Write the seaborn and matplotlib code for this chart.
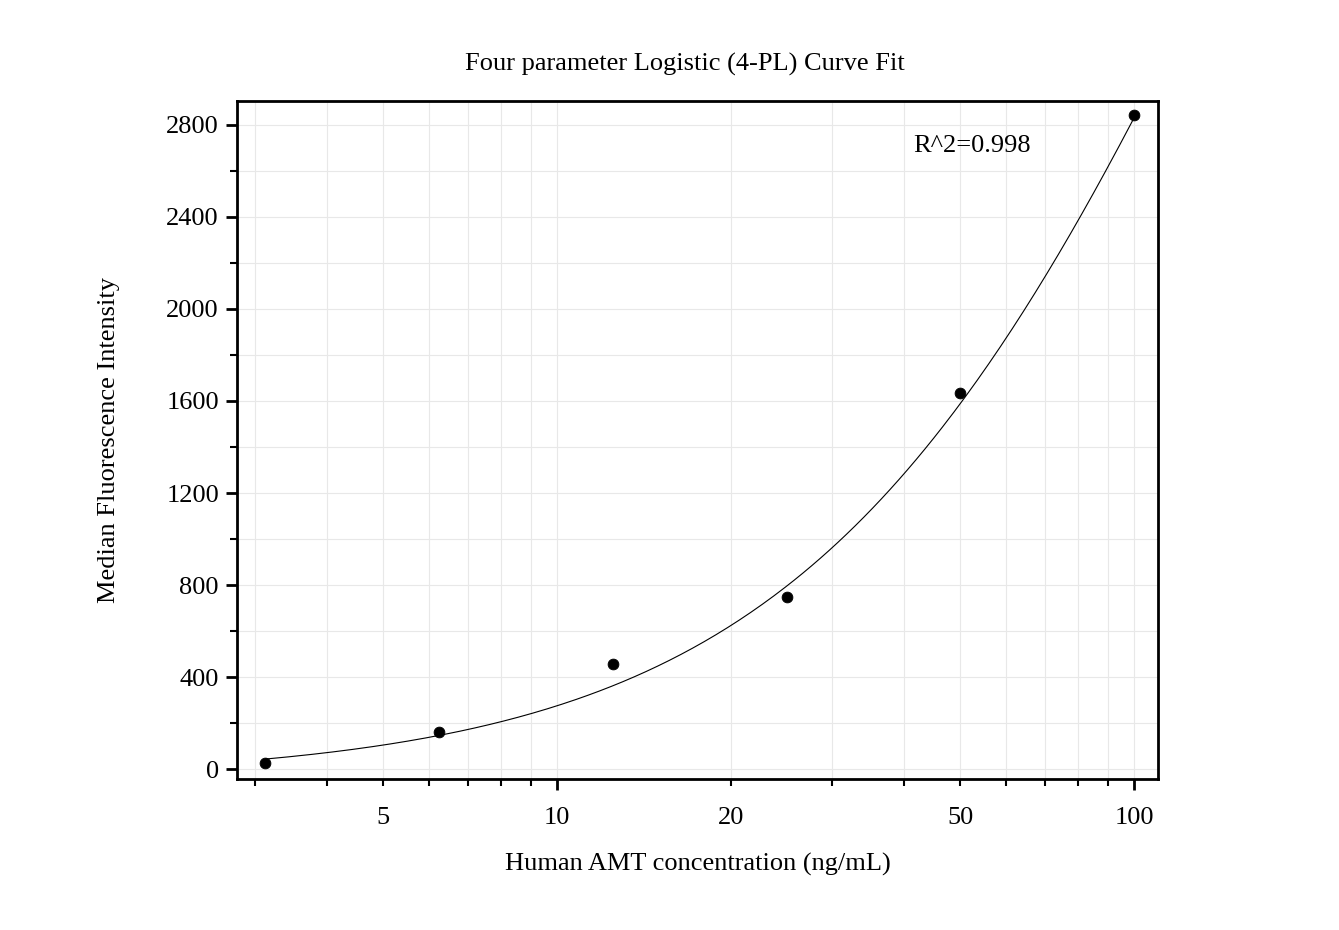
import numpy as np
import pandas as pd
import matplotlib
matplotlib.use("Agg")
import matplotlib.pyplot as plt
import matplotlib.ticker as mticker
import seaborn as sns

# Data
conc = [3.125, 6.25, 12.5, 25, 50, 100]
mfi = [26, 161, 458, 750, 1633, 2843]

# 4PL fit parameters (A=min, B=slope, C=inflection, D=max)
A_min = -45.0
B_slope = 1.13
C_mid = 166.0
D_max = 7930.0

x_ticks = [5, 10, 20, 50, 100]
x_tick_labels = ["5", "10", "20", "50", "100"]
y_ticks = [0, 400, 800, 1200, 1600, 2000, 2400, 2800]

sns.set_theme(style="white")
plt.rcParams["font.family"] = ["Liberation Serif", "DejaVu Serif"]
plt.rcParams["text.color"] = "black"
plt.rcParams["axes.labelcolor"] = "black"
plt.rcParams["xtick.color"] = "black"
plt.rcParams["ytick.color"] = "black"

fig = plt.figure(figsize=(13.39, 9.30), dpi=100)
ax = fig.add_axes([0.177, 0.1624, 0.6878, 0.729])

xs = np.logspace(np.log10(conc[0]), np.log10(conc[-1]), 300)
ys = D_max + (A_min - D_max) / (1 + (xs / C_mid) ** B_slope)
curve = pd.DataFrame({"x": xs, "y": ys})
pts = pd.DataFrame({"x": conc, "y": mfi})

sns.lineplot(data=curve, x="x", y="y", ax=ax, color="black", linewidth=0.8)
sns.scatterplot(data=pts, x="x", y="y", ax=ax, color="black", s=60, edgecolor="black", zorder=5)

ax.set_xscale("log")
ax.set_xlim(2.79, 110)
ax.set_ylim(-43, 2904)

ax.xaxis.set_major_locator(mticker.FixedLocator([10, 100]))
ax.xaxis.set_minor_locator(mticker.FixedLocator([3, 4, 5, 6, 7, 8, 9, 20, 30, 40, 50, 60, 70, 80, 90]))
ax.xaxis.set_major_formatter(mticker.NullFormatter())
ax.xaxis.set_minor_formatter(mticker.NullFormatter())
for xt, lbl in zip(x_ticks, x_tick_labels):
    ax.text(xt, -(818 - 779) / 678, lbl, transform=ax.get_xaxis_transform(),
            ha="center", va="center", fontsize=19)

ax.yaxis.set_major_locator(mticker.FixedLocator(y_ticks))
ax.yaxis.set_minor_locator(mticker.FixedLocator([200, 600, 1000, 1400, 1800, 2200, 2600]))
ax.set_yticklabels([str(v) for v in y_ticks], fontsize=19)

ax.grid(True, which="both", color="#e8e8e8", linewidth=0.8)
ax.set_axisbelow(True)

ax.tick_params(axis="both", which="major", direction="out", length=8, width=2, bottom=True, left=True)
ax.tick_params(axis="both", which="minor", direction="out", length=5, width=1.5, bottom=True, left=True)
ax.tick_params(axis="y", pad=5)

for sp in ax.spines.values():
    sp.set_color("black")
    sp.set_linewidth(2)

ax.set_xlabel("Human AMT concentration (ng/mL)", fontsize=19, labelpad=0)
ax.xaxis.set_label_coords(0.5, -(864 - 779) / 678, transform=ax.transAxes)
ax.xaxis.label.set_va("center")
ax.set_ylabel("Median Fluorescence Intensity", fontsize=19)
ax.yaxis.set_label_coords(-(237 - 109) / 921, 0.5, transform=ax.transAxes)
ax.yaxis.label.set_va("center")
fig.text(685 / 1339, 1 - 64 / 930, "Four parameter Logistic (4-PL) Curve Fit", fontsize=19, ha="center", va="center")

ax.text((913 - 237) / 921, (779 - 146) / 678, "R^2=0.998", transform=ax.transAxes, fontsize=19, ha="left", va="center")

fig.savefig("out.png", dpi=100, facecolor="white")
